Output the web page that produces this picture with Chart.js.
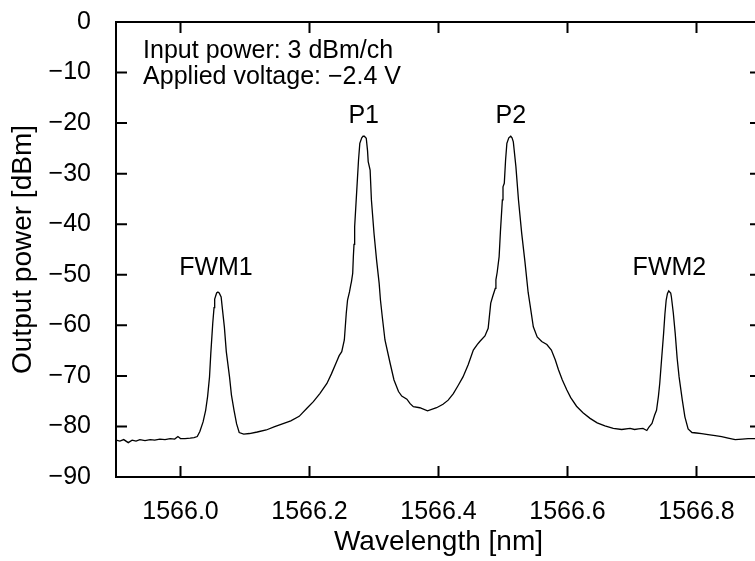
<!DOCTYPE html>
<html>
<head>
<meta charset="utf-8">
<script src="https://cdn.jsdelivr.net/npm/chart.js@4/dist/chart.umd.min.js"></script>
<style>
  html, body { margin: 0; padding: 0; overflow: hidden; background: #fff; }
  #wrap { position: absolute; left: 0; top: 0; width: 770px; height: 561px; }
</style>
</head>
<body>
<div id="wrap"><canvas id="spectrumChart"></canvas></div>
<script>
// spectrum
const wavelength = [
  1565.900, 1565.906, 1565.912, 1565.919, 1565.925, 1565.931, 1565.937, 1565.945, 1565.953, 1565.960,
  1565.968, 1565.976, 1565.984, 1565.991, 1565.996, 1566.000, 1566.007, 1566.015, 1566.021, 1566.026,
  1566.030, 1566.035, 1566.039, 1566.042, 1566.045, 1566.047, 1566.050, 1566.052, 1566.053, 1566.056,
  1566.058, 1566.060, 1566.063, 1566.065, 1566.068, 1566.071, 1566.076, 1566.079, 1566.083, 1566.087,
  1566.091, 1566.098, 1566.107, 1566.119, 1566.133, 1566.145, 1566.158, 1566.171, 1566.184, 1566.196,
  1566.206, 1566.216, 1566.227, 1566.234, 1566.242, 1566.246, 1566.250, 1566.254, 1566.257, 1566.259,
  1566.262, 1566.264, 1566.265, 1566.267, 1566.268, 1566.269, 1566.270, 1566.273, 1566.276, 1566.278,
  1566.281, 1566.283, 1566.285, 1566.288, 1566.290, 1566.291, 1566.294, 1566.296, 1566.300, 1566.304,
  1566.308, 1566.310, 1566.313, 1566.317, 1566.325, 1566.331, 1566.338, 1566.343, 1566.351, 1566.356,
  1566.361, 1566.371, 1566.383, 1566.397, 1566.407, 1566.415, 1566.423, 1566.430, 1566.438, 1566.446,
  1566.454, 1566.460, 1566.464, 1566.472, 1566.477, 1566.481, 1566.484, 1566.488, 1566.489, 1566.491,
  1566.494, 1566.496, 1566.499, 1566.500, 1566.502, 1566.504, 1566.506, 1566.509, 1566.512, 1566.514,
  1566.516, 1566.520, 1566.524, 1566.529, 1566.534, 1566.539, 1566.542, 1566.547, 1566.553, 1566.560,
  1566.568, 1566.575, 1566.581, 1566.586, 1566.592, 1566.599, 1566.605, 1566.614, 1566.624, 1566.635,
  1566.646, 1566.658, 1566.671, 1566.684, 1566.697, 1566.704, 1566.710, 1566.717, 1566.723, 1566.726,
  1566.731, 1566.735, 1566.738, 1566.741, 1566.743, 1566.746, 1566.749, 1566.751, 1566.753, 1566.755,
  1566.757, 1566.760, 1566.761, 1566.764, 1566.767, 1566.770, 1566.773, 1566.778, 1566.782, 1566.787,
  1566.793, 1566.800, 1566.808, 1566.818, 1566.829, 1566.839, 1566.849, 1566.860, 1566.871, 1566.880,
  1566.891, 1566.900
];
const outputPower = [
  -82.7, -82.9, -82.6, -83.2, -82.7, -82.9, -82.6, -82.8, -82.6, -82.7,
  -82.5, -82.6, -82.4, -82.5, -82.0, -82.4, -82.4, -82.3, -82.2, -82.0,
  -81.0, -79.1, -76.8, -74.1, -70.2, -65.5, -59.6, -56.5, -54.8, -53.6,
  -53.4, -53.6, -54.4, -56.8, -60.3, -65.2, -70.2, -73.8, -76.8, -79.5,
  -81.2, -81.5, -81.4, -81.1, -80.7, -80.1, -79.5, -78.9, -78.0, -76.4,
  -75.1, -73.5, -71.5, -69.6, -67.2, -66.0, -65.2, -62.9, -57.6, -55.0,
  -53.4, -52.0, -51.4, -49.7, -46.4, -44.0, -40.5, -33.9, -27.3, -24.0,
  -22.9, -22.6, -22.6, -23.0, -25.5, -27.6, -29.3, -35.2, -41.8, -47.1,
  -51.7, -55.0, -58.5, -62.9, -67.5, -70.8, -73.1, -74.0, -74.6, -75.5,
  -76.1, -76.3, -76.9, -76.3, -75.6, -74.8, -73.5, -72.0, -70.2, -67.8,
  -64.9, -63.8, -63.2, -62.1, -60.6, -55.6, -54.3, -52.7, -51.0, -49.5,
  -46.4, -41.5, -35.2, -32.6, -31.9, -27.3, -24.0, -22.9, -22.6, -22.9,
  -23.7, -28.6, -35.2, -41.8, -47.4, -53.5, -56.0, -60.3, -62.3, -63.2,
  -63.8, -64.9, -66.8, -68.8, -70.8, -72.8, -74.3, -76.0, -77.3, -78.4,
  -79.3, -79.9, -80.4, -80.6, -80.4, -80.6, -80.5, -80.4, -80.8, -80.2,
  -79.4, -77.8, -76.8, -74.0, -71.5, -66.5, -61.6, -57.8, -55.0, -53.7,
  -53.2, -53.6, -54.3, -57.5, -61.6, -66.5, -70.2, -74.8, -78.1, -80.5,
  -81.2, -81.3, -81.4, -81.6, -81.8, -82.0, -82.3, -82.6, -82.5, -82.4,
  -82.4, -82.5
];

const xTickValues = [1566.0, 1566.2, 1566.4, 1566.6, 1566.8];
const xTickLabels = ['1566.0', '1566.2', '1566.4', '1566.6', '1566.8'];

const peakNames = ['FWM1', 'P1', 'P2', 'FWM2'];
const peakLabelX = [1566.055, 1566.284, 1566.512, 1566.758];
const peakLabelY = [-50, -20, -20, -50];

const noteLines = ['Input power: 3 dBm/ch', 'Applied voltage: \u22122.4 V'];
const noteX = 1565.942;
const noteY = [-7.1, -12.3];

const FONT = "'Liberation Sans', Arial, Helvetica, sans-serif";

// frame with inward ticks on all four sides, plus the text labels
const framePlugin = {
  id: 'frame',
  afterDatasetsDraw(chart) {
    const { ctx, chartArea: a, scales: { x, y } } = chart;
    const len = 11;
    ctx.save();
    ctx.strokeStyle = '#000';
    ctx.lineWidth = 2;
    ctx.strokeRect(a.left, a.top, a.right - a.left, a.bottom - a.top);
    ctx.beginPath();
    x.ticks.forEach(t => {
      const px = x.getPixelForValue(t.value);
      ctx.moveTo(px, a.bottom); ctx.lineTo(px, a.bottom - len);
      ctx.moveTo(px, a.top); ctx.lineTo(px, a.top + len);
    });
    y.ticks.forEach(t => {
      const py = y.getPixelForValue(t.value);
      ctx.moveTo(a.left, py); ctx.lineTo(a.left + len, py);
      ctx.moveTo(a.right, py); ctx.lineTo(a.right - len, py);
    });
    ctx.stroke();

    ctx.fillStyle = '#000';
    ctx.font = '25px ' + FONT;
    ctx.textBaseline = 'alphabetic';
    ctx.textAlign = 'center';
    peakNames.forEach((name, i) => {
      ctx.fillText(name, x.getPixelForValue(peakLabelX[i]), y.getPixelForValue(peakLabelY[i]));
    });
    ctx.textAlign = 'left';
    noteLines.forEach((line, i) => {
      ctx.fillText(line, x.getPixelForValue(noteX), y.getPixelForValue(noteY[i]));
    });
    ctx.restore();
  }
};

function renderSpectrum() {
  const ctx = document.getElementById('spectrumChart').getContext('2d');
  new Chart(ctx, {
    type: 'line',
    data: {
      datasets: [{
        data: wavelength.map((w, i) => ({ x: w, y: outputPower[i] })),
        borderColor: '#000',
        borderWidth: 1.3,
        pointRadius: 0,
        tension: 0,
        fill: false
      }]
    },
    options: {
      responsive: true,
      maintainAspectRatio: false,
      devicePixelRatio: 1,
      animation: false,
      layout: { padding: { top: 22, right: 9, left: 0, bottom: 0 } },
      plugins: { legend: { display: false }, tooltip: { enabled: false } },
      scales: {
        x: {
          type: 'linear',
          min: 1565.9,
          max: 1566.9,
          grid: { display: false },
          border: { display: false },
          afterBuildTicks: scale => { scale.ticks = xTickValues.map(v => ({ value: v })); },
          // fixed axis band so the plot frame lands where the reference has it
          afterFit: scale => { scale.height = 84; scale.paddingLeft = 0; scale.paddingRight = 0; },
          ticks: {
            padding: 12,
            maxRotation: 0,
            autoSkip: false,
            color: '#000',
            font: { family: FONT, size: 25 },
            callback: (value, index) => xTickLabels[index]
          },
          title: {
            display: true,
            text: 'Wavelength [nm]',
            color: '#000',
            font: { family: FONT, size: 28 },
            padding: { top: 0, bottom: 2 }
          }
        },
        y: {
          min: -90,
          max: 0,
          grid: { display: false },
          border: { display: false },
          afterFit: scale => { scale.width = 116; scale.paddingTop = 0; scale.paddingBottom = 0; },
          ticks: {
            stepSize: 10,
            padding: 17,
            color: '#000',
            font: { family: FONT, size: 25 },
            callback: value => String(value).replace('-', '\u2212')
          },
          title: {
            display: true,
            text: 'Output power [dBm]',
            color: '#000',
            font: { family: FONT, size: 28 },
            padding: { top: 6.5, bottom: 0 }
          }
        }
      }
    },
    plugins: [framePlugin]
  });
}

renderSpectrum();
</script>
</body>
</html>
